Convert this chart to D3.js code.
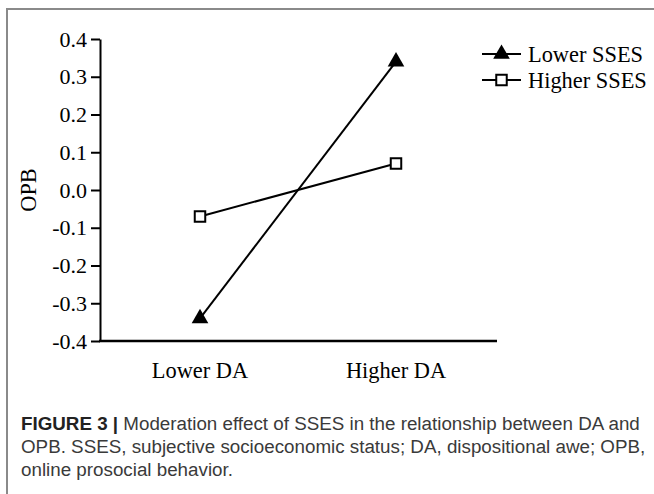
<!DOCTYPE html>
<html><head><meta charset="utf-8">
<script src="https://cdn.jsdelivr.net/npm/d3@7"></script>
<style>body{margin:0;background:#fff}svg{display:block}</style>
</head><body><svg id="c" width="654" height="494"></svg>
<script>
const categories = ["Lower DA", "Higher DA"];
const seriesNames = ["Lower SSES", "Higher SSES"];
const lowerSSES = [-0.34, 0.34];
const higherSSES = [-0.07, 0.07];
const yTicks = [0.4, 0.3, 0.2, 0.1, 0.0, -0.1, -0.2, -0.3, -0.4];
const yTitle = "OPB";

const svg = d3.select("#c");
// frame
svg.append("path").attr("d","M7,494V9H654").attr("fill","none").attr("stroke","#8a8a8a").attr("stroke-width",2);

const x = d3.scalePoint().domain(categories).range([200, 396]);
const y = d3.scaleLinear().domain([-0.4, 0.4]).range([341, 39]);
const axX0 = 100, axX1 = 497;
const serif = "'Liberation Serif','Times New Roman',serif";
const fmt = d => d3.format(".1f")(d).replace("\u2212", "-");

// y axis
const ya = svg.append("g").attr("transform",`translate(${axX0},0)`)
  .call(d3.axisLeft(y).tickValues(yTicks).tickSize(9).tickSizeOuter(0).tickPadding(4).tickFormat(fmt));
ya.select(".domain").attr("stroke","#000").attr("stroke-width",2);
ya.selectAll(".tick line").attr("stroke","#000").attr("stroke-width",2);
ya.selectAll(".tick text").attr("font-family",serif).attr("font-size",22).attr("fill","#000");
// x axis line
svg.append("line").attr("x1",axX0-1).attr("x2",axX1).attr("y1",y(-0.4)).attr("y2",y(-0.4)).attr("stroke","#000").attr("stroke-width",2.5);
svg.selectAll(".xl").data(categories).join("text").attr("class","xl")
  .attr("x",d=>x(d)).attr("y",378).attr("text-anchor","middle")
  .attr("font-family",serif).attr("font-size",22.4).text(d=>d);

svg.append("text").attr("transform","translate(36,190) rotate(-90)").attr("text-anchor","middle")
  .attr("font-family",serif).attr("font-size",22.4).text(yTitle);

const line = d3.line().x((d,i)=>x(categories[i])).y(d=>y(d));
const tri = d3.symbol().type(d3.symbolTriangle).size(120);
const sq = d3.symbol().type(d3.symbolSquare).size(110);

svg.append("path").datum(lowerSSES).attr("d",line).attr("fill","none").attr("stroke","#000").attr("stroke-width",2);
svg.append("path").datum(higherSSES).attr("d",line).attr("fill","none").attr("stroke","#000").attr("stroke-width",2);
svg.selectAll(".tri").data(lowerSSES).join("path").attr("class","tri")
  .attr("transform",(d,i)=>`translate(${x(categories[i])},${y(d)})`).attr("d",tri).attr("fill","#000");
svg.selectAll(".sq").data(higherSSES).join("path").attr("class","sq")
  .attr("transform",(d,i)=>`translate(${x(categories[i])},${y(d)})`).attr("d",sq).attr("fill","#fff").attr("stroke","#000").attr("stroke-width",2);

// legend
const leg = svg.append("g");
const legY = [54, 80];
seriesNames.forEach((n,i)=>{
  leg.append("line").attr("x1",482).attr("x2",521).attr("y1",legY[i]).attr("y2",legY[i]).attr("stroke","#000").attr("stroke-width",2);
  leg.append("path").attr("transform",`translate(501.5,${legY[i]})`).attr("d", i===0?tri:sq)
    .attr("fill", i===0?"#000":"#fff").attr("stroke","#000").attr("stroke-width", i===0?0:2);
  leg.append("text").attr("x",528).attr("y",legY[i]+7.5).attr("font-family",serif).attr("font-size",22.4).text(n);
});

// caption
const capFont = "'Liberation Sans',Arial,Helvetica,sans-serif";
const cap = svg.append("g").attr("font-family",capFont).attr("font-size",18.8).attr("fill","#3a3a3a");
const t1 = cap.append("text").attr("x",21).attr("y",430);
t1.append("tspan").attr("font-weight","bold").attr("fill","#222").text("FIGURE 3 | ");
t1.append("tspan").text("Moderation effect of SSES in the relationship between DA and");
cap.append("text").attr("x",21).attr("y",453).text("OPB. SSES, subjective socioeconomic status; DA, dispositional awe; OPB,");
cap.append("text").attr("x",21).attr("y",476).text("online prosocial behavior.");
</script></body></html>
